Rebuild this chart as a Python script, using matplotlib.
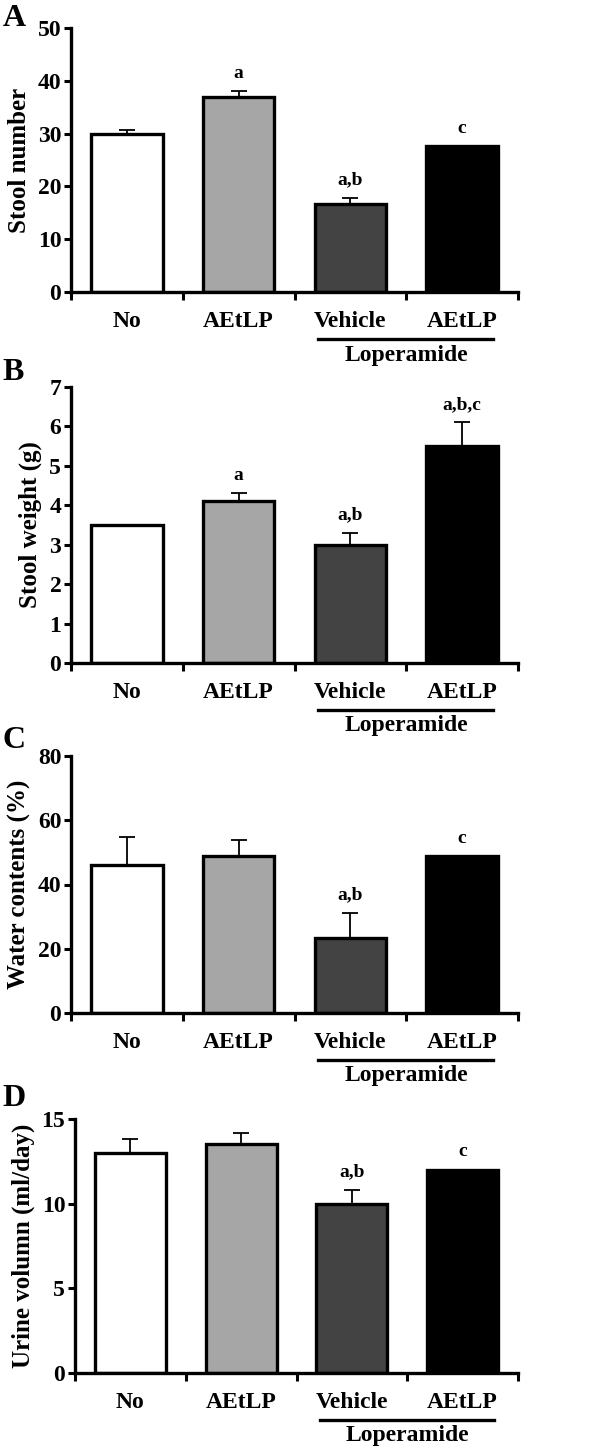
import numpy as np
import matplotlib
matplotlib.use("Agg")
import matplotlib.pyplot as plt
from matplotlib.transforms import offset_copy

plt.rcParams['font.family'] = ['Liberation Serif', 'DejaVu Serif']
plt.rcParams['font.weight'] = 'bold'

# data
groups = ['No', 'AEtLP', 'Vehicle', 'AEtLP']
bar_colors = ['#ffffff', '#a6a6a6', '#434343', '#000000']

stool_number = [30.0, 37.0, 16.7, 27.6]
stool_number_err = [0.7, 1.0, 1.1, 0.0]
stool_number_sig = ['', 'a', 'a,b', 'c']

stool_weight = [3.5, 4.1, 3.0, 5.5]
stool_weight_err = [0.0, 0.2, 0.3, 0.6]
stool_weight_sig = ['', 'a', 'a,b', 'a,b,c']

water_contents = [46.0, 49.0, 23.5, 48.8]
water_contents_err = [8.8, 5.0, 7.5, 0.0]
water_contents_sig = ['', '', 'a,b', 'c']

urine_volume = [13.0, 13.5, 10.0, 12.0]
urine_volume_err = [0.8, 0.7, 0.8, 0.0]
urine_volume_sig = ['', '', 'a,b', 'c']

panels = [
    ('A', stool_number, stool_number_err, stool_number_sig, 'Stool number', 50, 10),
    ('B', stool_weight, stool_weight_err, stool_weight_sig, 'Stool weight (g)', 7, 1),
    ('C', water_contents, water_contents_err, water_contents_sig, 'Water contents (%)', 80, 20),
    ('D', urine_volume, urine_volume_err, urine_volume_sig, 'Urine volumn (ml/day)', 15, 5),
]

# axes boxes in pixels (left, top, right, bottom) and panel letter positions
W, H = 600, 1449
boxes = [(71, 28, 518, 292), (71, 387, 518, 663), (71, 756, 518, 1013), (75, 1119, 518, 1373)]
letter_y = [4, 358, 726, 1084]

fig = plt.figure(figsize=(W / 100, H / 100), dpi=100)

for (letter, vals, errs, sig, ylabel, ymax, ystep), (l, t, r, b), ly in zip(panels, boxes, letter_y):
    ax = fig.add_axes([l / W, 1 - b / H, (r - l) / W, (b - t) / H])
    x = np.arange(len(vals)) + 0.5
    ax.bar(x, vals, width=0.64, color=bar_colors, edgecolor='black', linewidth=2.4, zorder=2)
    lower = np.zeros(len(vals))
    ax.errorbar(x, vals, yerr=[lower, errs], fmt='none', ecolor='black',
                elinewidth=1.3, capsize=5.5, capthick=1.3, zorder=1)
    for xi, v, e, s in zip(x, vals, errs, sig):
        if s:
            ax.annotate(s, (xi, v + e), xytext=(0, 7), textcoords='offset points',
                        ha='center', va='bottom', fontsize=14, fontweight='bold')

    ax.set_xlim(0, 4)
    ax.set_ylim(0, ymax)
    ax.set_yticks(np.arange(0, ymax + 0.01, ystep))
    ax.set_xticks(x, groups)
    ax.set_xticks([0, 1, 2, 3, 4], minor=True)
    ax.tick_params(axis='x', which='major', length=0, pad=14, labelsize=17)
    ax.tick_params(axis='x', which='minor', length=6, width=2.2, direction='out')
    ax.tick_params(axis='y', length=5, width=2.2, pad=2, labelsize=17)
    for lab in ax.get_yticklabels() + ax.get_xticklabels():
        lab.set_fontweight('bold')
    for side in ['top', 'right']:
        ax.spines[side].set_visible(False)
    for side in ['left', 'bottom']:
        ax.spines[side].set_linewidth(2.4)
    ax.set_ylabel(ylabel, fontsize=18, fontweight='bold', labelpad=5)

    # Loperamide bracket under the last two groups
    trans = offset_copy(ax.get_xaxis_transform(), fig=fig, y=-47, units='dots')
    ax.plot([2.21, 3.78], [0, 0], color='black', linewidth=2.4, transform=trans, clip_on=False)
    trans2 = offset_copy(ax.get_xaxis_transform(), fig=fig, y=-63, units='dots')
    ax.text(3.0, 0, 'Loperamide', transform=trans2, ha='center', va='center',
            fontsize=17, fontweight='bold')

    fig.text(0.004, 1 - ly / H, letter, ha='left', va='top', fontsize=23, fontweight='bold')

fig.savefig('out.png', dpi=100)
